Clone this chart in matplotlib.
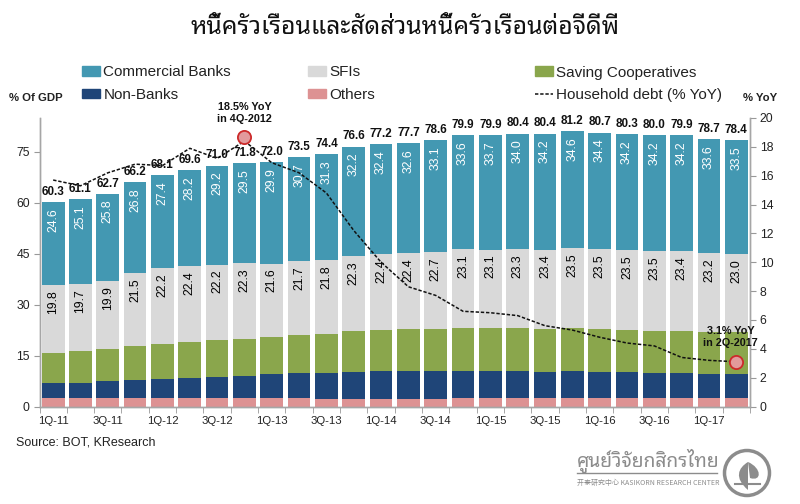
import matplotlib
matplotlib.use("Agg")
import matplotlib.pyplot as plt
from matplotlib.patches import Patch, Circle, PathPatch
from matplotlib.lines import Line2D
from matplotlib.path import Path
from matplotlib.ticker import FixedLocator, NullFormatter

quarters = ["1Q-11", "2Q-11", "3Q-11", "4Q-11", "1Q-12", "2Q-12", "3Q-12", "4Q-12", "1Q-13",
            "2Q-13", "3Q-13", "4Q-13", "1Q-14", "2Q-14", "3Q-14", "4Q-14", "1Q-15", "2Q-15",
            "3Q-15", "4Q-15", "1Q-16", "2Q-16", "3Q-16", "4Q-16", "1Q-17", "2Q-17"]

others = [2.4, 2.4, 2.6, 2.6, 2.6, 2.5, 2.5, 2.4, 2.5, 2.4, 2.2, 2.2, 2.2,
          2.3, 2.3, 2.4, 2.4, 2.4, 2.5, 2.5, 2.5, 2.5, 2.5, 2.5, 2.4, 2.4]
nonBanks = [4.5, 4.5, 4.9, 5.1, 5.5, 5.8, 6.2, 6.7, 7.0, 7.5, 7.7, 8.1, 8.3,
            8.3, 8.3, 8.2, 8.0, 8.0, 7.8, 7.9, 7.7, 7.7, 7.5, 7.5, 7.3, 7.3]
saving = [9.0, 9.4, 9.5, 10.2, 10.4, 10.7, 10.9, 10.9, 11.0, 11.2, 11.4, 11.8, 11.9,
          12.1, 12.2, 12.6, 12.7, 12.7, 12.5, 12.7, 12.6, 12.4, 12.3, 12.3, 12.2, 12.2]
sfis = [19.8, 19.7, 19.9, 21.5, 22.2, 22.4, 22.2, 22.3, 21.6, 21.7, 21.8, 22.3, 22.4,
        22.4, 22.7, 23.1, 23.1, 23.3, 23.4, 23.5, 23.5, 23.5, 23.5, 23.4, 23.2, 23.0]
commercial = [24.6, 25.1, 25.8, 26.8, 27.4, 28.2, 29.2, 29.5, 29.9, 30.7, 31.3, 32.2, 32.4,
              32.6, 33.1, 33.6, 33.7, 34.0, 34.2, 34.6, 34.4, 34.2, 34.2, 34.2, 33.6, 33.5]
totals = [60.3, 61.1, 62.7, 66.2, 68.1, 69.6, 71.0, 71.8, 72.0, 73.5, 74.4, 76.6, 77.2,
          77.7, 78.6, 79.9, 79.9, 80.4, 80.4, 81.2, 80.7, 80.3, 80.0, 79.9, 78.7, 78.4]
debtYoY = [15.7, 15.3, 16.2, 16.8, 16.7, 17.9, 17.2, 18.4, 16.9, 16.2, 14.8, 12.2, 10.0,
           8.3, 7.7, 6.6, 6.5, 6.3, 5.6, 5.3, 4.8, 4.4, 4.2, 3.4, 3.2, 3.1]

thaiFont = ["Noto Sans Thai Looped", "Loma", "DejaVu Sans"]
plt.rcParams["font.family"] = ["Liberation Sans", "DejaVu Sans"]

TEAL = "#4398b2"
GREY = "#d9d9d9"
GREEN = "#8aa64c"
NAVY = "#1f4578"
PINK = "#dd9293"
TEXT = "#222222"

W, H = 800, 504
fig = plt.figure(figsize=(W / 100, H / 100), dpi=100)
ax = fig.add_axes([39.5 / W, 1 - 406.5 / H, 710.5 / W, 288.5 / H])
ax2 = ax.twinx()
ax.set_zorder(1)
ax2.set_zorder(2)
ax.patch.set_visible(False)
ax2.patch.set_visible(False)

x = list(range(len(quarters)))

# Stacked bars
bottom = [0] * len(x)
for values, color in [(others, PINK), (nonBanks, NAVY), (saving, GREEN), (sfis, GREY), (commercial, TEAL)]:
    ax.bar(x, values, width=0.83, bottom=bottom, color=color)
    bottom = [b + v for b, v in zip(bottom, values)]

# Value labels, kept a fixed distance below the top of their segment
sfiTops = [o + n + s + f for o, n, s, f in zip(others, nonBanks, saving, sfis)]
for i in x:
    ax.text(i, totals[i] + 3.0, "%.1f" % totals[i], ha="center", va="center", fontsize=8.4,
            fontweight="bold", color="#111111")
    ax.text(i, totals[i] - 5.3, "%.1f" % commercial[i], ha="center", va="center", fontsize=8.8,
            rotation=90, color="white")
    ax.text(i, sfiTops[i] - 5.0, "%.1f" % sfis[i], ha="center", va="center", fontsize=8.8,
            rotation=90, color="#000000")

ax.set_xlim(-0.5, len(x) - 0.5)
ax.set_ylim(0, 85)
ax.set_yticks([0, 15, 30, 45, 60, 75])
ax.set_xticks(x[::2])
ax.set_xticklabels(quarters[::2])
ax.xaxis.set_minor_locator(FixedLocator([i - 0.5 for i in range(len(x) + 1)]))
ax.xaxis.set_minor_formatter(NullFormatter())
ax.tick_params(axis="x", which="major", length=0, labelsize=8.2, labelcolor=TEXT, pad=7)
ax.tick_params(axis="x", which="minor", length=4, color="#999999")
ax.tick_params(axis="y", length=4, color="#999999", labelsize=8.8, labelcolor=TEXT, pad=3)

# Household debt line and its two marked points
ax2.plot(x, debtYoY, color="#111111", linestyle=(0, (2.2, 1.2)), linewidth=1.1)
ax2.plot([x[7], x[25]], [18.7, debtYoY[25]], linestyle="none", marker="o", markersize=9.5,
         markerfacecolor="#e29a9c", markeredgecolor="#cc2a2a", markeredgewidth=1.3)
ax2.set_ylim(0, 20)
ax2.set_yticks(range(0, 21, 2))
ax2.tick_params(axis="y", length=4, color="#999999", labelsize=8.8, labelcolor=TEXT, pad=3)

for a in (ax, ax2):
    a.spines["top"].set_visible(False)
    for side in ("left", "right", "bottom"):
        a.spines[side].set_color("#a6a6a6")
        a.spines[side].set_linewidth(1.0)

ax2.annotate("18.5% YoY\nin 4Q-2012", (x[7], 18.7), xytext=(0, 9.5), textcoords="offset points",
             ha="center", va="bottom", fontsize=7.8, fontweight="bold", color="#111111", linespacing=1.2)
ax2.annotate("3.1% YoY\nin 2Q-2017", (x[25], debtYoY[25]), xytext=(-4, 10), textcoords="offset points",
             ha="center", va="bottom", fontsize=7.8, fontweight="bold", color="#111111", linespacing=1.2)


def figText(px, py, s, **kw):
    # px, py are picture pixels from the top left corner
    fig.text(px / W, 1 - py / H, s, **kw)


# Legends are three separate blocks because the columns are unevenly spaced
legendOpts = dict(frameon=False, fontsize=11, handlelength=1.2, handleheight=0.62, handletextpad=0.2,
                  labelspacing=0.55, borderpad=0, borderaxespad=0, loc="upper left", labelcolor=TEXT)
fig.legend(handles=[Patch(color=TEAL, label="Commercial Banks"), Patch(color=NAVY, label="Non-Banks")],
           bbox_to_anchor=(82 / W, 1 - 65.5 / H), **legendOpts)
fig.legend(handles=[Patch(color=GREY, label="SFIs"), Patch(color=PINK, label="Others")],
           bbox_to_anchor=(308 / W, 1 - 65.5 / H), **legendOpts)
fig.legend(handles=[Patch(color=GREEN, label="Saving Cooperatives"),
                    Line2D([], [], color="#111111", linestyle=(0, (2.2, 1.2)), linewidth=1.1,
                           label="Household debt (% YoY)")],
           bbox_to_anchor=(535 / W, 1 - 65.5 / H), **legendOpts)

figText(405, 27, "หนี้ครัวเรือนและสัดส่วนหนี้ครัวเรือนต่อจีดีพี", ha="center", va="center", fontsize=17.8,
        fontweight="bold", family=thaiFont, color="#111111")
figText(36, 98, "% Of GDP", ha="center", va="center", fontsize=8.2, fontweight="bold", color=TEXT)
figText(760, 98, "% YoY", ha="center", va="center", fontsize=8.2, fontweight="bold", color=TEXT)
figText(16, 442.5, "Source: BOT, KResearch", ha="left", va="center", fontsize=9, color=TEXT)

# Research centre logo at the bottom right
LOGO = "#8c8c8c"
figText(577, 461, "ศูนย์วิจัยกสิกรไทย", ha="left", va="center", fontsize=13.9, fontweight="bold",
        family=thaiFont, color=LOGO)
figText(577, 483, "开泰研究中心 KASIKORN RESEARCH CENTER", ha="left", va="center", fontsize=5,
        family=["Noto Sans CJK SC", "DejaVu Sans"], color=LOGO)
fig.add_artist(Line2D([577 / W, 717 / W], [1 - 473 / H, 1 - 473 / H], color=LOGO, linewidth=1))
fig.add_artist(Circle((747, H - 473), 22.5, transform=None, facecolor="none", edgecolor=LOGO, linewidth=2.5))
leafPaths = [[(748, H - 490), (734, H - 478), (738, H - 468), (748, H - 462)],
             [(748, H - 462), (762, H - 468), (762, H - 482), (750, H - 478)]]
for pts in leafPaths:
    codes = [Path.MOVETO, Path.CURVE4, Path.CURVE4, Path.CURVE4]
    fig.add_artist(PathPatch(Path(pts, codes), transform=None, facecolor=LOGO, edgecolor="none"))
fig.add_artist(Line2D([735 / W, 760 / W], [1 - 484 / H, 1 - 484 / H], color=LOGO, linewidth=1.5))

fig.savefig("out.png", dpi=100)
